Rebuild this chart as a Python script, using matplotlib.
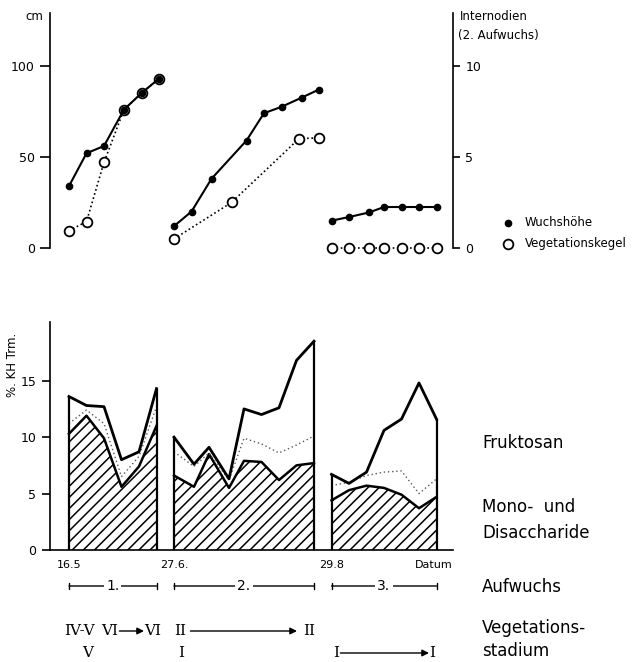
import numpy as np
import matplotlib.pyplot as plt
from matplotlib.transforms import blended_transform_factory

plt.rcParams['font.family'] = ['DejaVu Sans']
plt.rcParams['hatch.linewidth'] = 1.1

# Tage nach dem 16.5 (drei Aufwuechse)
hoehe_tage = [[0, 7, 14, 22, 29, 36],
              [42, 49, 57, 71, 78, 85, 93, 100],
              [105, 112, 120, 126, 133, 140, 147]]
hoehe_cm = [[34, 52, 56, 76, 85, 93],
            [12, 20, 38, 59, 74, 77.5, 82.5, 87],
            [15, 17, 19.5, 22.5, 22.5, 22.5, 22.5]]
kegel_tage = [[0, 7, 14, 22, 29, 36],
              [42, 65, 92, 100],
              [105, 112, 120, 126, 133, 140, 147]]
kegel_cm = [[9.5, 14.5, 47, 76, 85, 93],
            [5, 25, 60, 60.5],
            [0, 0, 0, 0, 0, 0, 0]]

# Kohlenhydrate, % der Trockenmasse
kh_tage = [[0, 7, 14, 21, 28, 35],
           [42, 50, 56, 64, 70, 77, 84, 91, 98],
           [105, 112, 119, 126, 133, 140, 147]]
kh_gesamt = [[13.6, 12.8, 12.7, 8.0, 8.7, 14.3],
             [10.0, 7.6, 9.1, 6.3, 12.5, 12.0, 12.6, 16.8, 18.5],
             [6.7, 5.9, 6.9, 10.6, 11.6, 14.8, 11.6]]
kh_punkt = [[11.2, 12.4, 11.2, 6.5, 8.3, 12.7],
            [8.7, 7.4, 8.6, 6.2, 9.9, 9.4, 8.6, 9.3, 10.1],
            [5.7, 6.0, 6.6, 6.9, 7.0, 5.0, 6.3]]
kh_mono = [[10.3, 11.9, 9.9, 5.6, 7.4, 11.0],
           [6.6, 5.6, 8.5, 5.5, 7.9, 7.8, 6.2, 7.5, 7.7],
           [4.4, 5.3, 5.7, 5.5, 4.9, 3.7, 4.7]]

datum_tage = [0, 42, 105, 146]
datum_text = ['16.5', '27.6.', '29.8', 'Datum']
aufwuchs = ['1.', '2.', '3.']

W, H = 633, 662
def px(x, y):
    return x / W, 1 - y / H

fig = plt.figure(figsize=(W / 100, H / 100), dpi=100)
xlim = (-7.6, 153.6)

# --- oberes Diagramm: Wuchshoehe ---
ax = fig.add_axes([50 / W, 1 - 248 / H, 403 / W, 235 / H])
ax.set_xlim(xlim)
ax.set_ylim(0, 129)
for t, v in zip(kegel_tage, kegel_cm):
    ax.plot(t, v, color='k', ls=(0, (1, 1.6)), lw=1.2, marker='o', ms=7,
            mfc='white', mec='k', mew=1.3, clip_on=False)
for t, v in zip(hoehe_tage, hoehe_cm):
    ax.plot(t, v, color='k', lw=1.5, marker='o', ms=4.5, mfc='k', mec='k',
            clip_on=False)
for s in ['top', 'right', 'bottom']:
    ax.spines[s].set_visible(False)
ax.spines['left'].set_linewidth(1.2)
ax.set_xticks([])
ax.set_yticks([0, 50, 100])
ax.tick_params(axis='y', length=7, width=1.2, labelsize=9, pad=4)

ax2 = ax.twinx()
ax2.set_ylim(0, 12.9)
ax2.set_yticks([0, 5, 10])
for s in ['top', 'left', 'bottom']:
    ax2.spines[s].set_visible(False)
ax2.spines['right'].set_linewidth(1.2)
ax2.tick_params(axis='y', length=5, width=1.2, labelsize=9, pad=4)

fig.text(*px(43, 16), 'cm', ha='right', va='center', fontsize=8.5)
fig.text(*px(460, 16), 'Internodien', ha='left', va='center', fontsize=8.5)
fig.text(*px(458, 36), '(2. Aufwuchs)', ha='left', va='center', fontsize=8.5)

# Legende
ax.plot([px(508, 0)[0]], [px(0, 223)[1]], 'o', ms=4.5, color='k',
        transform=fig.transFigure, clip_on=False)
ax.plot([px(508, 0)[0]], [px(0, 244)[1]], 'o', ms=7, mfc='white', mec='k',
        mew=1.3, transform=fig.transFigure, clip_on=False)
fig.text(*px(525, 223), 'Wuchshöhe', ha='left', va='center', fontsize=8.5)
fig.text(*px(525, 244), 'Vegetationskegel', ha='left', va='center', fontsize=8.5)

# --- unteres Diagramm: Kohlenhydrate ---
bx = fig.add_axes([50 / W, 1 - 550 / H, 403 / W, 228 / H])
bx.set_xlim(xlim)
bx.set_ylim(0, 20.2)
for t, g, p, m in zip(kh_tage, kh_gesamt, kh_punkt, kh_mono):
    bx.fill_between(t, 0, m, facecolor='none', edgecolor='k', hatch='///', lw=0)
    bx.plot(t, m, color='k', lw=1.8)
    bx.plot(t, p, color='0.35', ls=(0, (1, 2)), lw=1)
    bx.plot(t, g, color='k', lw=2)
    bx.vlines([t[0], t[-1]], 0, [g[0], g[-1]], color='k', lw=1.6)
for s in ['top', 'right']:
    bx.spines[s].set_visible(False)
bx.spines['left'].set_linewidth(1.2)
bx.spines['bottom'].set_linewidth(1.2)
bx.set_yticks([0, 5, 10, 15])
bx.tick_params(axis='y', length=6, width=1.2, labelsize=9, pad=4)
bx.set_xticks(datum_tage)
bx.set_xticklabels(datum_text, fontsize=8)
bx.tick_params(axis='x', length=0, pad=7)

fig.text(*px(13, 365), '%. KH Trm.', rotation=90, ha='center', va='center',
         fontsize=8.5)

big = 12
fig.text(*px(482, 443), 'Fruktosan', ha='left', va='center', fontsize=big)
fig.text(*px(482, 507), 'Mono-  und', ha='left', va='center', fontsize=big)
fig.text(*px(482, 533), 'Disaccharide', ha='left', va='center', fontsize=big)
fig.text(*px(482, 587), 'Aufwuchs', ha='left', va='center', fontsize=big)
fig.text(*px(482, 628), 'Vegetations-', ha='left', va='center', fontsize=big)
fig.text(*px(482, 651), 'stadium', ha='left', va='center', fontsize=big)

# Aufwuchs-Klammern
trans = blended_transform_factory(bx.transData, fig.transFigure)
yb = px(0, 586)[1]
for t, lab in zip(kh_tage, aufwuchs):
    bx.annotate('', xy=(t[-1], yb), xytext=(t[0], yb), xycoords=trans,
                textcoords=trans, annotation_clip=False,
                arrowprops=dict(arrowstyle='|-|,widthA=0.2,widthB=0.2',
                                lw=1, color='k', shrinkA=0, shrinkB=0))
    bx.text((t[0] + t[-1]) / 2, yb, lab, transform=trans, ha='center',
            va='center', fontsize=10,
            bbox=dict(facecolor='white', edgecolor='none', pad=1.5))

# Vegetationsstadien
serif = dict(family='DejaVu Serif', fontsize=11, va='center')
r1, r2 = 631, 653
fig.text(*px(79, r1), 'IV-V', ha='center', **serif)
fig.text(*px(88, r2), 'V', ha='center', **serif)
fig.text(*px(118, r1), 'VI', ha='right', **serif)
fig.text(*px(144, r1), 'VI', ha='left', **serif)
fig.text(*px(174, r1), 'II', ha='left', **serif)
fig.text(*px(315, r1), 'II', ha='right', **serif)
fig.text(*px(181, r2), 'I', ha='center', **serif)
fig.text(*px(339, r2), 'I', ha='right', **serif)
fig.text(*px(429, r2), 'I', ha='left', **serif)
for x0, x1, y in [(118, 144, r1), (189, 297, r1), (339, 429, r2)]:
    fig.add_artist(plt.matplotlib.patches.FancyArrowPatch(
        px(x0, y), px(x1, y), transform=fig.transFigure,
        arrowstyle='-|>,head_length=4,head_width=2', lw=1, color='k',
        shrinkA=1, shrinkB=0))

fig.savefig('out.png', dpi=100)
